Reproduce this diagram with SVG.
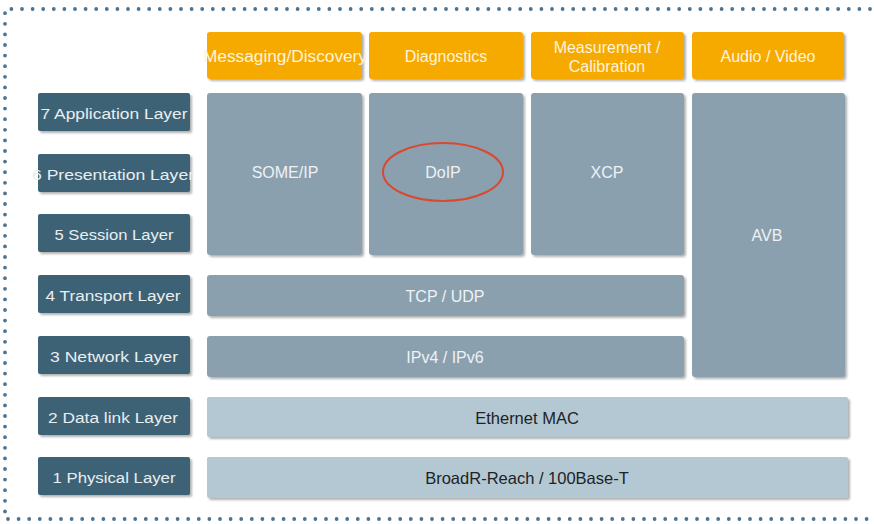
<svg xmlns="http://www.w3.org/2000/svg" width="874" height="524" viewBox="0 0 874 524">
  <defs>
    <filter id="sh" x="-10%" y="-10%" width="130%" height="140%">
      <feDropShadow dx="2" dy="2" stdDeviation="1.3" flood-color="#555" flood-opacity="0.45"/>
    </filter>
  </defs>
  <style>
    text { font-family: "Liberation Sans", Arial, sans-serif; text-anchor: middle; dominant-baseline: central; }
    .layer rect { fill: #3E6275; filter: url(#sh); }
    .layer text { fill: #E9EEF1; font-size: 15.5px; }
    .app rect { fill: #F6AA00; filter: url(#sh); }
    .app text { fill: #FFF3DC; font-size: 16px; }
    .proto rect { fill: #8BA0AF; filter: url(#sh); }
    .proto text { fill: #EEF2F5; font-size: 16px; }
    .phy rect { fill: #B3C8D2; filter: url(#sh); }
    .phy text { fill: #1E2226; font-size: 16.5px; }
    .border { fill: none; stroke: #4D7391; stroke-width: 3.8; stroke-linecap: round; stroke-dasharray: 0 10.6; }
  </style>
  <rect width="874" height="524" fill="#FFFFFF"/>
  <path class="border" d="M870 9 H5 V519 H870"/>

  <!-- OSI layers -->
  <g id="layer7" class="layer"><rect x="38" y="93" width="152" height="38" rx="2"/><text x="114" y="113" textLength="147" lengthAdjust="spacingAndGlyphs">7 Application Layer</text></g>
  <g id="layer6" class="layer"><rect x="38" y="154" width="152" height="38" rx="2"/><text x="113" y="174" textLength="162" lengthAdjust="spacingAndGlyphs">6 Presentation Layer</text></g>
  <g id="layer5" class="layer"><rect x="38" y="214" width="152" height="38" rx="2"/><text x="114" y="234" textLength="119" lengthAdjust="spacingAndGlyphs">5 Session Layer</text></g>
  <g id="layer4" class="layer"><rect x="38" y="275" width="152" height="38" rx="2"/><text x="113" y="295" textLength="135" lengthAdjust="spacingAndGlyphs">4 Transport Layer</text></g>
  <g id="layer3" class="layer"><rect x="38" y="336" width="152" height="38" rx="2"/><text x="114" y="356" textLength="128" lengthAdjust="spacingAndGlyphs">3 Network Layer</text></g>
  <g id="layer2" class="layer"><rect x="38" y="397" width="152" height="38" rx="2"/><text x="113" y="417" textLength="130" lengthAdjust="spacingAndGlyphs">2 Data link Layer</text></g>
  <g id="layer1" class="layer"><rect x="38" y="457" width="152" height="38" rx="2"/><text x="114" y="477" textLength="123" lengthAdjust="spacingAndGlyphs">1 Physical Layer</text></g>

  <!-- Application headers -->
  <g id="hdr-messaging" class="app"><rect x="207" y="32" width="155" height="47" rx="3"/><text x="285" y="56" textLength="164" lengthAdjust="spacingAndGlyphs">Messaging/Discovery</text></g>
  <g id="hdr-diagnostics" class="app"><rect x="369" y="32" width="154" height="47" rx="3"/><text x="446" y="56">Diagnostics</text></g>
  <g id="hdr-measurement" class="app"><rect x="531" y="32" width="153" height="47" rx="3"/><text x="607" y="47">Measurement /</text><text x="607" y="66">Calibration</text></g>
  <g id="hdr-audio" class="app"><rect x="692" y="32" width="152" height="47" rx="3"/><text x="768" y="56">Audio / Video</text></g>

  <!-- Protocol blocks -->
  <g id="someip" class="proto"><rect x="207" y="93" width="155" height="162" rx="3"/><text x="285" y="172">SOME/IP</text></g>
  <g id="doip" class="proto"><rect x="369" y="93" width="154" height="162" rx="3"/><text x="443" y="172">DoIP</text><ellipse cx="443" cy="172" rx="60" ry="29" fill="none" stroke="#D8492E" stroke-width="2"/></g>
  <g id="xcp" class="proto"><rect x="531" y="93" width="153" height="162" rx="3"/><text x="607" y="172">XCP</text></g>
  <g id="avb" class="proto"><rect x="692" y="93" width="153" height="284" rx="3"/><text x="767" y="235">AVB</text></g>
  <g id="tcpudp" class="proto"><rect x="207" y="275" width="477" height="41" rx="3"/><text x="445" y="296">TCP / UDP</text></g>
  <g id="ip" class="proto"><rect x="207" y="336" width="477" height="41" rx="3"/><text x="445" y="357">IPv4 / IPv6</text></g>

  <!-- Physical / data link -->
  <g id="ethmac" class="phy"><rect x="207" y="397" width="641" height="40" rx="2"/><text x="527" y="418">Ethernet MAC</text></g>
  <g id="broadr" class="phy"><rect x="207" y="457" width="641" height="41" rx="2"/><text x="527" y="478">BroadR-Reach / 100Base-T</text></g>
</svg>
